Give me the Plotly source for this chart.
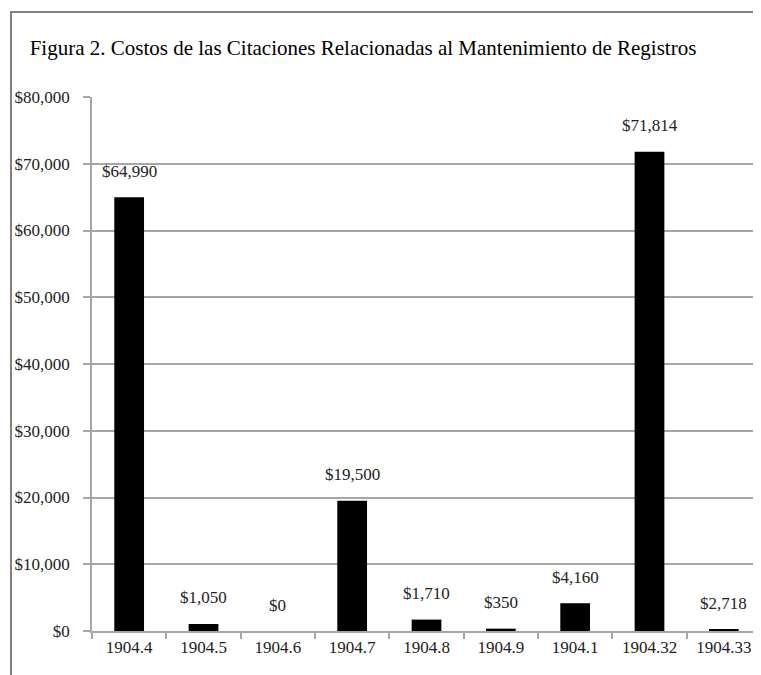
import plotly.graph_objects as go

categories = ["1904.4", "1904.5", "1904.6", "1904.7", "1904.8", "1904.9", "1904.1", "1904.32", "1904.33"]
bar_values = [64990, 1050, 0, 19500, 1710, 350, 4160, 71814, 300]
label_texts = ["$64,990", "$1,050", "$0", "$19,500", "$1,710", "$350", "$4,160", "$71,814", "$2,718"]
y_tick_values = [0, 10000, 20000, 30000, 40000, 50000, 60000, 70000, 80000]
y_tick_labels = ["$0", "$10,000", "$20,000", "$30,000", "$40,000", "$50,000", "$60,000", "$70,000", "$80,000"]
title_text = "Figura 2. Costos de las Citaciones Relacionadas al Mantenimiento de Registros"

FONT = "Liberation Serif"
GRID = "#a6a6a6"

fig = go.Figure()
fig.add_trace(go.Bar(
    x=categories, y=bar_values,
    marker=dict(color="black", line=dict(width=0)),
    width=0.4,
    hoverinfo="skip",
))

for i, (v, t) in enumerate(zip(bar_values, label_texts)):
    fig.add_annotation(x=i, y=v, text=t, showarrow=False, yanchor="middle",
                       yshift=26, font=dict(family=FONT, size=17, color="#222"))

fig.update_layout(
    width=761, height=675,
    margin=dict(l=84, r=8, t=89, b=52),
    paper_bgcolor="white", plot_bgcolor="white",
    showlegend=False,
    title=dict(text=title_text, x=355 / 761, xanchor="center", xref="container",
               y=1 - 40 / 675, yanchor="middle", yref="container",
               font=dict(family=FONT, size=21, color="black")),
    font=dict(family=FONT, color="#222"),
    shapes=[dict(type="rect", xref="paper", yref="paper",
                 x0=(3 - 84) / 669, x1=1.2, y0=-0.3, y1=(623 - 4) / 534,
                 line=dict(color="#808080", width=2), fillcolor="rgba(0,0,0,0)", layer="above")],
)

fig.update_xaxes(
    type="category",
    categoryorder="array", categoryarray=categories,
    range=[-0.5, len(categories) - 0.5],
    showline=True, linecolor=GRID, linewidth=1.5,
    ticks="outside", tickson="boundaries", ticklen=6, tickcolor=GRID, tickwidth=1.5,
    tickfont=dict(family=FONT, size=17, color="#222"),
    tickangle=0,
    showgrid=False,
)
fig.update_yaxes(
    range=[0, 80000],
    tickvals=y_tick_values, ticktext=y_tick_labels,
    showline=True, linecolor=GRID, linewidth=1.5,
    ticks="outside", ticklen=7, tickcolor=GRID, tickwidth=1.5,
    ticklabelstandoff=10,
    showgrid=True, gridcolor=GRID, gridwidth=1.5,
    zeroline=False,
    tickfont=dict(family=FONT, size=17, color="#222"),
)

fig.write_html("out.html")
